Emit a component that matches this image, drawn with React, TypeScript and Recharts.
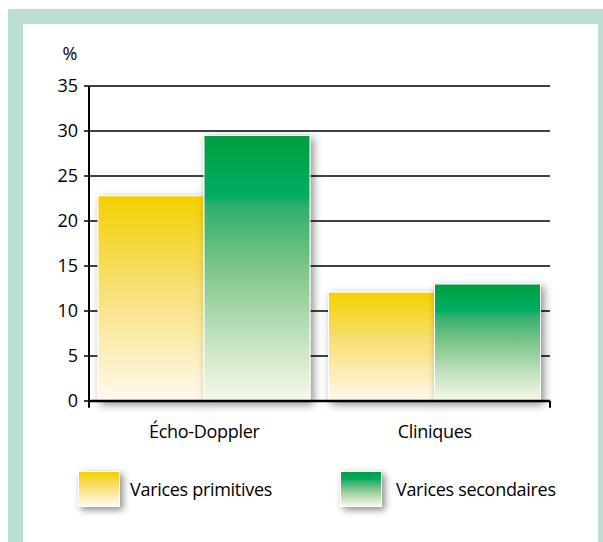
import React from "react";
import {
  BarChart,
  Bar,
  XAxis,
  YAxis,
  CartesianGrid,
  ReferenceLine,
  Legend,
} from "recharts";

const categories = ["Écho-Doppler", "Cliniques"];
const primitives = [22.8, 12.1];
const secondaires = [29.5, 13.0];
const yTicks = [0, 5, 10, 15, 20, 25, 30, 35];
const edgeTicks = [0, 1, 2];

const seriesNames = ["Varices primitives", "Varices secondaires"];
const seriesKeys = ["primitives", "secondaires"];
const seriesFills = ["url(#gradYellow)", "url(#gradGreen)"];
const swatchCss = [
  "linear-gradient(to bottom, #f4d000 0%, #f8df75 45%, #fff9ef 100%)",
  "linear-gradient(to bottom, #009f3f 0%, #00ad64 23%, #30b06d 27%, #7ec58b 50%, #bfe0bb 75%, #f7f9e9 100%)",
];

const FONT = "'Open Sans', sans-serif";

const data = categories.map((c, i) => ({
  name: c,
  primitives: primitives[i],
  secondaires: secondaires[i],
}));

const ShadowBar = (props: any) => {
  const { x, y, width, height, fill } = props;
  if (!height || height <= 0) return null;
  return (
    <rect
      x={x}
      y={y}
      width={width}
      height={height}
      fill={fill}
      stroke="#fff"
      strokeWidth={1}
      filter="url(#barShadow)"
    />
  );
};

const renderLegend = () => (
  <div
    style={{
      display: "flex",
      fontFamily: FONT,
      fontSize: 18,
      letterSpacing: -0.3,
      color: "#000",
    }}
  >
    {seriesNames.map((n, i) => (
      <div
        key={n}
        style={{
          display: "flex",
          alignItems: "center",
          width: i === 0 ? 264 : 260,
          marginLeft: i === 0 ? 55 : 0,
        }}
      >
        <div
          style={{
            width: 40,
            height: 34,
            background: swatchCss[i],
            border: "1px solid #fff",
            boxShadow: "3px 3px 7px rgba(0,0,0,0.45)",
            marginRight: i === 0 ? 10 : 14,
          }}
        />
        <span>{n}</span>
      </div>
    ))}
  </div>
);

export default function App() {
  return (
    <div
      style={{
        position: "fixed",
        left: 8,
        top: 9,
        width: 595,
        height: 533,
        background: "#bde0d5",
        paddingLeft: 15,
        paddingTop: 15,
        boxSizing: "border-box",
      }}
    >
      <div style={{ width: 575, height: 518, background: "#fff", position: "relative" }}>
        <BarChart
          width={575}
          height={518}
          data={data}
          margin={{ top: 62, right: 48, left: 0, bottom: 101 }}
          barCategoryGap={9}
          barGap={0}
        >
          <defs>
            <linearGradient id="gradYellow" x1="0" y1="0" x2="0" y2="1">
              <stop offset="0%" stopColor="#f4d000" />
              <stop offset="45%" stopColor="#f8df75" />
              <stop offset="100%" stopColor="#fff9ef" />
            </linearGradient>
            <linearGradient id="gradGreen" x1="0" y1="0" x2="0" y2="1">
              <stop offset="0%" stopColor="#009f3f" />
              <stop offset="23%" stopColor="#00ad64" />
              <stop offset="27%" stopColor="#30b06d" />
              <stop offset="50%" stopColor="#7ec58b" />
              <stop offset="75%" stopColor="#bfe0bb" />
              <stop offset="100%" stopColor="#f7f9e9" />
            </linearGradient>
            <filter id="barShadow" x="-20%" y="-20%" width="150%" height="150%">
              <feDropShadow dx="3" dy="3" stdDeviation="4" floodColor="#000" floodOpacity="0.45" />
            </filter>
          </defs>

          <CartesianGrid vertical={false} stroke="#000" strokeWidth={1.5} />

          {seriesKeys.map((k, i) => (
            <Bar
              key={k}
              dataKey={k}
              name={seriesNames[i]}
              fill={seriesFills[i]}
              shape={ShadowBar}
              isAnimationActive={false}
            />
          ))}

          <XAxis
            dataKey="name"
            height={40}
            axisLine={{ stroke: "#000", strokeWidth: 2.5 }}
            tickLine={false}
            tickSize={0}
            tickMargin={24}
            tick={{ fill: "#000", fontSize: 18, fontFamily: FONT, letterSpacing: -0.3 }}
          />
          <XAxis xAxisId="edge" type="number" domain={[0, 2]} hide />
          <YAxis
            width={66}
            domain={[0, 35]}
            ticks={yTicks}
            interval={0}
            axisLine={{ stroke: "#000", strokeWidth: 2 }}
            tickLine={{ stroke: "#000", strokeWidth: 1.5 }}
            tickSize={5}
            tickMargin={6}
            tick={{ fill: "#000", fontSize: 18, fontFamily: FONT }}
            label={(p: any) => (
              <text
                x={p.viewBox.x + 47}
                y={p.viewBox.y - 26}
                textAnchor="middle"
                fontSize={18}
                fontFamily={FONT}
                fill="#000"
              >
                %
              </text>
            )}
          />

          {edgeTicks.map((t) => (
            <ReferenceLine
              key={t}
              xAxisId="edge"
              segment={[
                { x: t, y: 0 },
                { x: t, y: -0.75 },
              ]}
              ifOverflow="visible"
              stroke="#000"
              strokeWidth={2}
            />
          ))}

          <Legend
            layout="vertical"
            align="center"
            verticalAlign="middle"
            content={renderLegend}
            wrapperStyle={{ top: 447, left: 0, width: 575 }}
          />
        </BarChart>
      </div>
    </div>
  );
}
